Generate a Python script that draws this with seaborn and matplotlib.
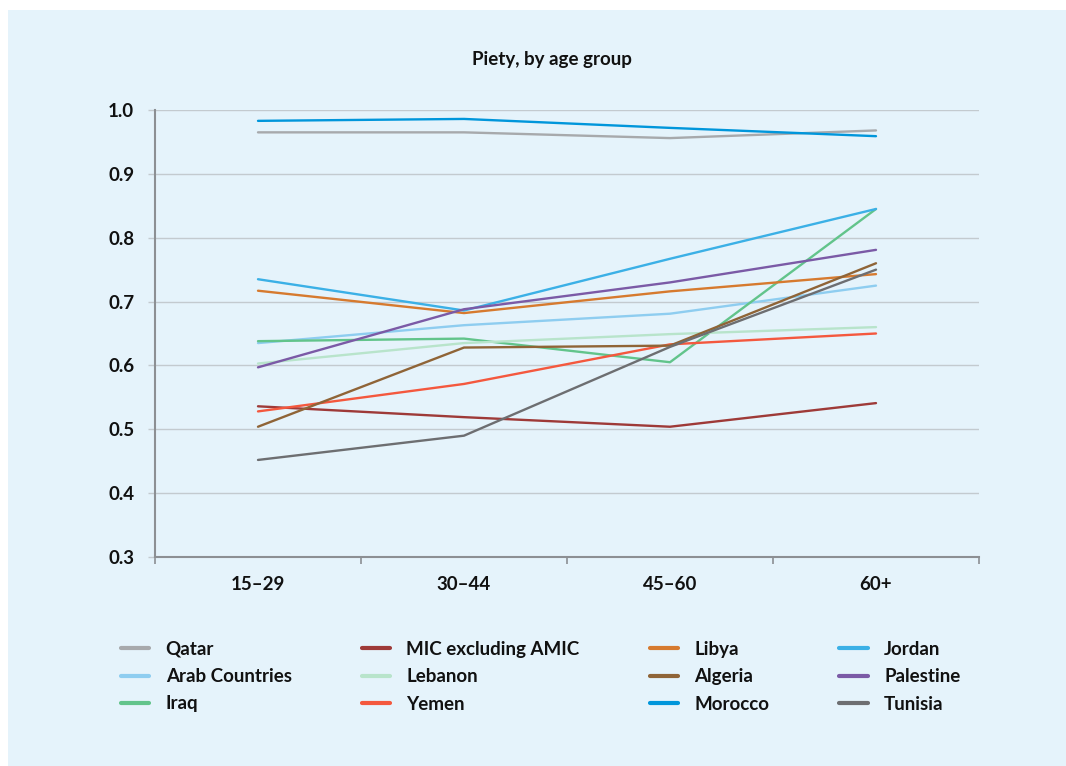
import matplotlib
matplotlib.use("Agg")
import matplotlib.pyplot as plt
import seaborn as sns
import pandas as pd
from matplotlib.patches import Rectangle
from matplotlib.ticker import FixedLocator

age_groups = ["15–29", "30–44", "45–60", "60+"]

qatar = [0.965, 0.965, 0.956, 0.968]
mic_excl_amic = [0.536, 0.519, 0.504, 0.541]
libya = [0.717, 0.682, 0.716, 0.743]
jordan = [0.735, 0.686, 0.767, 0.845]
arab_countries = [0.635, 0.663, 0.681, 0.725]
lebanon = [0.603, 0.635, 0.649, 0.660]
algeria = [0.504, 0.628, 0.631, 0.760]
palestine = [0.597, 0.688, 0.730, 0.781]
iraq = [0.638, 0.642, 0.605, 0.845]
yemen = [0.528, 0.571, 0.633, 0.650]
morocco = [0.983, 0.986, 0.972, 0.959]
tunisia = [0.452, 0.490, 0.629, 0.750]

series = {
    "Qatar": qatar,
    "Arab Countries": arab_countries,
    "Iraq": iraq,
    "MIC excluding AMIC": mic_excl_amic,
    "Lebanon": lebanon,
    "Yemen": yemen,
    "Libya": libya,
    "Algeria": algeria,
    "Morocco": morocco,
    "Jordan": jordan,
    "Palestine": palestine,
    "Tunisia": tunisia,
}

colors = {
    "Qatar": "#a7a9ac",
    "MIC excluding AMIC": "#9e3a38",
    "Libya": "#d67a2f",
    "Jordan": "#3bb0e6",
    "Arab Countries": "#8ecdf0",
    "Lebanon": "#b8e4cb",
    "Algeria": "#8f6437",
    "Palestine": "#7b5aa6",
    "Iraq": "#62c48b",
    "Yemen": "#f4583e",
    "Morocco": "#0096db",
    "Tunisia": "#6d6e71",
}

rows = []
for name, vals in series.items():
    for g, v in zip(age_groups, vals):
        rows.append({"group": g, "value": v, "country": name})
df = pd.DataFrame(rows)

sns.set_theme(style="white")
plt.rcParams["font.family"] = ["Lato", "DejaVu Sans"]

W, H = 1066, 766
fig = plt.figure(figsize=(W / 100, H / 100), dpi=100, facecolor="white")
bg = "#e5f3fb"
fig.patches.append(Rectangle((8 / W, 0), 1 - 8 / W, 1 - 10 / H, transform=fig.transFigure,
                             facecolor=bg, edgecolor="none", zorder=-10))

ax = fig.add_axes([155 / W, (H - 557) / H, (979 - 155) / W, (557 - 110) / H])
ax.set_zorder(1)
ax.set_facecolor(bg)

sns.lineplot(data=df, x="group", y="value", hue="country", palette=colors,
             hue_order=list(series.keys()), linewidth=1.7, ax=ax, legend=True, sort=False)

ax.set_xlim(-0.5, 3.5)
ax.set_ylim(0.3, 1.0)
ax.set_yticks([0.3, 0.4, 0.5, 0.6, 0.7, 0.8, 0.9, 1.0])
ax.set_yticklabels(["0.3", "0.4", "0.5", "0.6", "0.7", "0.8", "0.9", "1.0"])
ax.set_xticks(range(4))
ax.set_xticklabels(age_groups)
ax.xaxis.set_minor_locator(FixedLocator([-0.5, 0.5, 1.5, 2.5, 3.5]))
ax.set_xlabel("")
ax.set_ylabel("")

ax.grid(axis="y", color="#c3cacf", linewidth=1.0)
ax.grid(axis="x", visible=False)
ax.set_axisbelow(True)
for s in ["top", "right"]:
    ax.spines[s].set_visible(False)
for s in ["left", "bottom"]:
    ax.spines[s].set_color("#8c8f93")
    ax.spines[s].set_linewidth(1.5)

ax.tick_params(axis="y", which="major", length=5, width=1.0, color="#c3cacf", pad=10,
               labelsize=13.5, direction="out", left=True)
ax.tick_params(axis="x", which="major", length=0, pad=14, labelsize=13.5)
ax.tick_params(axis="x", which="minor", length=5, width=1.2, color="#8c8f93", direction="out", bottom=True)
for lab in ax.get_xticklabels() + ax.get_yticklabels():
    lab.set_fontweight("bold")
    lab.set_color("#111111")

fig.text(552 / W, 1 - 60 / H, "Piety, by age group", ha="center", va="center",
         fontsize=13.5, fontweight="bold", color="#111111")

handles, labels = ax.get_legend_handles_labels()
ax.legend_.remove()
leg = fig.legend(handles, labels, ncol=4, loc="upper left",
                 bbox_to_anchor=(104 / W, 1 - 624 / H), frameon=False,
                 prop={"weight": "bold", "size": 13.5}, handlelength=1.5,
                 handletextpad=0.89, columnspacing=3.73, labelspacing=0.55)
for line in leg.get_lines():
    line.set_linewidth(3)
for t in leg.get_texts():
    t.set_color("#111111")

fig.savefig("out.png", dpi=100, facecolor="white")
